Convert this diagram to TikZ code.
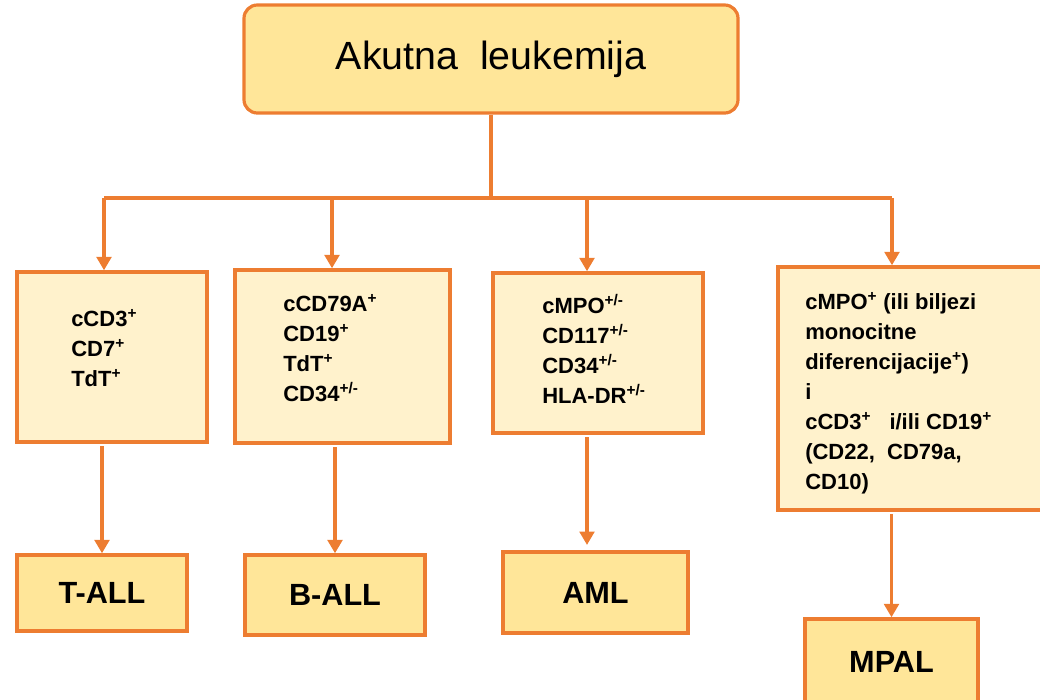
\documentclass[tikz,border=0pt]{standalone}
\usepackage{fontspec}
\setmainfont{Liberation Sans}
\usetikzlibrary{arrows.meta}

\definecolor{lborder}{HTML}{ED7D31}
\definecolor{lfill}{HTML}{FFE699}
\definecolor{lpale}{HTML}{FFF2CC}

\begin{document}
\begin{tikzpicture}[x=0.75pt,y=-0.75pt,
  conn/.style={draw=lborder,line width=2.3pt},
  arr/.style={conn,-{Triangle[length=10pt,width=11pt]}},
  boxsize/.style 2 args={minimum width=#1*0.75pt,minimum height=#2*0.75pt,inner sep=0pt},
  headbox/.style={draw=lborder,fill=lfill,line width=2.4pt,rounded corners=10pt,
    font=\fontsize{29.5}{34}\selectfont},
  markbox/.style={draw=lborder,fill=lpale,line width=2.6pt},
  typebox/.style={draw=lborder,fill=lfill,line width=2.6pt,
    font=\fontsize{23}{27}\selectfont\bfseries},
  markers/.style={inner sep=0pt,align=left,anchor=north west,
    font=\fontsize{16.5}{22.5}\selectfont\bfseries}]

  \useasboundingbox (0,0) rectangle (1040,700);
  \clip (0,0) rectangle (1040,700);

  % Top
  \node[headbox,boxsize={494}{108}] (akl) at (491,59) {Akutna\ \ leukemija\hspace{10pt}};

  % Branch points
  \coordinate (jt) at (104,198);
  \coordinate (jb) at (332,198);
  \coordinate (ja) at (587,198);
  \coordinate (jm) at (892,198);

  % Marker boxes
  \node[markbox,boxsize={190}{170}] (tbox) at (112,357) {};
  \node[markbox,boxsize={215}{173}] (bbox) at (342.5,356.5) {};
  \node[markbox,boxsize={210}{160}] (abox) at (598,353) {};
  \node[markbox,boxsize={280}{243}] (mbox) at (918,388.5) {};

  \node[markers] (ttext) at (71,309) {cCD3\textsuperscript{+}\\CD7\textsuperscript{+}\\TdT\textsuperscript{+}};
  \node[markers] (btext) at (283,294) {cCD79A\textsuperscript{+}\\CD19\textsuperscript{+}\\TdT\textsuperscript{+}\\CD34\textsuperscript{+/-}};
  \node[markers] (atext) at (542,294) {cMPO\textsuperscript{+/-}\\CD117\textsuperscript{+/-}\\CD34\textsuperscript{+/-}\\HLA-DR\textsuperscript{+/-}};
  \node[markers] (mtext) at (805,292) {cMPO\textsuperscript{+} (ili biljezi\\monocitne\\diferencijacije\textsuperscript{+})\\i\\cCD3\textsuperscript{+}\ \ \ i/ili CD19\textsuperscript{+}\\(CD22,\ \ CD79a,\\CD10)};

  % Leukemia types
  \node[typebox,boxsize={170}{76}] (tall) at (102,593) {T-ALL};
  \node[typebox,boxsize={180}{80}] (ball) at (335,595) {B-ALL};
  \node[typebox,boxsize={185}{81}] (aml) at (595.5,592.5) {AML};
  \node[typebox,boxsize={173}{86}] (mpal) at (891.5,662) {MPAL};

  \draw[conn] (akl.south) -- (akl.south |- jt);
  \draw[conn] (jt) -- (jm);

  \draw[arr] (jt) -- (jt |- tbox.north);
  \draw[arr] (jb) -- (jb |- bbox.north);
  \draw[arr] (ja) -- (ja |- abox.north);
  \draw[arr] (jm) -- (jm |- mbox.north);

  \draw[arr,shorten <=2pt] (tbox.south -| tall.north) -- (tall.north);
  \draw[arr,shorten <=2pt] (bbox.south -| ball.north) -- (ball.north);
  \draw[arr,shorten <=2pt,shorten >=4pt] (abox.south -| ja) -- (aml.north -| ja);
  \draw[arr,shorten <=2pt] (mbox.south -| mpal.north) -- (mpal.north);

\end{tikzpicture}
\end{document}
